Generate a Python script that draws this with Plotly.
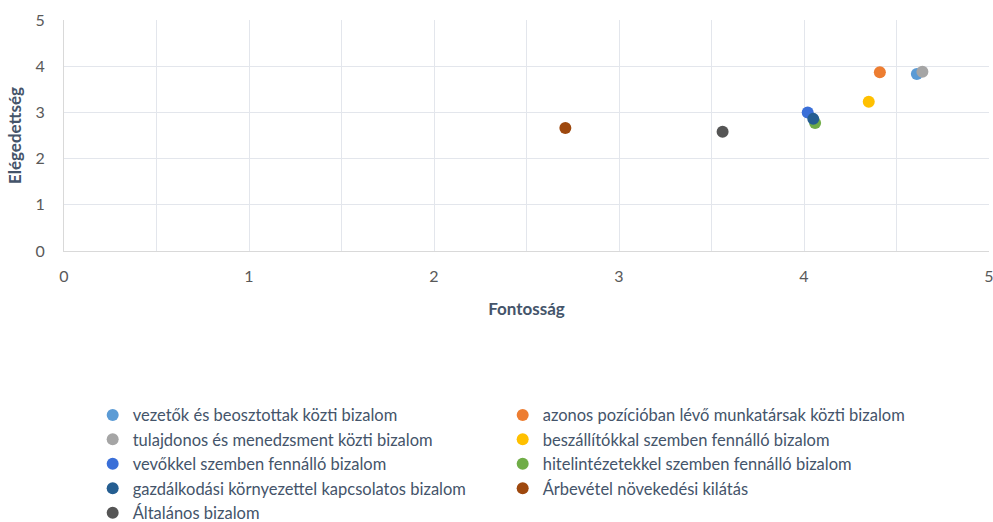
import plotly.graph_objects as go

# Trust dimensions: importance (Fontosság) vs satisfaction (Elégedettség)
names = [
    "vezetők és beosztottak közti bizalom",
    "azonos pozícióban lévő munkatársak közti bizalom",
    "tulajdonos és menedzsment közti bizalom",
    "beszállítókkal szemben fennálló bizalom",
    "vevőkkel szemben fennálló bizalom",
    "hitelintézetekkel szemben fennálló bizalom",
    "gazdálkodási környezettel kapcsolatos bizalom",
    "Árbevétel növekedési kilátás",
    "Általános bizalom",
]
fontossag = [4.61, 4.41, 4.64, 4.35, 4.02, 4.06, 4.05, 2.71, 3.56]
elegedettseg = [3.83, 3.87, 3.88, 3.23, 3.00, 2.77, 2.86, 2.66, 2.58]
colors = ["#5B9BD5", "#ED7D31", "#A5A5A5", "#FFC000", "#3A6FD8",
          "#70AD47", "#255E91", "#9E480E", "#555555"]

x_ticks = [0, 1, 2, 3, 4, 5]
y_ticks = [0, 1, 2, 3, 4, 5]

font_family = "Lato, Open Sans, sans-serif"
text_color = "#44546A"
tick_color = "#595959"
grid_color = "#E3E6EC"

fig = go.Figure()
for name, xv, yv, c in zip(names, fontossag, elegedettseg, colors):
    fig.add_trace(go.Scatter(
        x=[xv], y=[yv], mode="markers", name=name,
        marker=dict(size=12, color=c, line=dict(width=0)),
    ))

fig.update_layout(
    width=993, height=522,
    margin=dict(l=64, r=4, t=20, b=271, autoexpand=False),
    paper_bgcolor="white", plot_bgcolor="white",
    font=dict(family=font_family, color=tick_color, size=14),
    xaxis=dict(
        range=[0, 5], tickvals=x_ticks, ticktext=[str(v) for v in x_ticks],
        showgrid=True, gridcolor=grid_color, gridwidth=1,
        minor=dict(dtick=0.5, showgrid=True, gridcolor=grid_color, gridwidth=1),
        zeroline=False, showline=True, linecolor="#D9D9D9", linewidth=1,
        ticks="", ticklabelstandoff=11, ticklabeloverflow="allow",
        tickfont=dict(size=16, color=tick_color),
        title=dict(text="<b>Fontosság</b>", font=dict(size=17, color=text_color), standoff=18),
    ),
    yaxis=dict(
        range=[0, 5], tickvals=y_ticks, ticktext=[str(v) for v in y_ticks],
        showgrid=True, gridcolor=grid_color, gridwidth=1,
        zeroline=False, showline=True, linecolor="#D9D9D9", linewidth=1,
        ticks="", ticklabelstandoff=15,
        tickfont=dict(size=16, color=tick_color),
        title=dict(text="<b>Elégedettség</b>", font=dict(size=17, color=text_color), standoff=9),
    ),
    showlegend=True,
    legend=dict(
        orientation="h", x=0.031, xanchor="left", y=-0.635, yanchor="top",
        entrywidth=365, entrywidthmode="pixels",
        font=dict(size=16.5, color=text_color, family=font_family),
        itemwidth=30, bgcolor="rgba(0,0,0,0)",
    ),
)

fig.write_html("out.html")
